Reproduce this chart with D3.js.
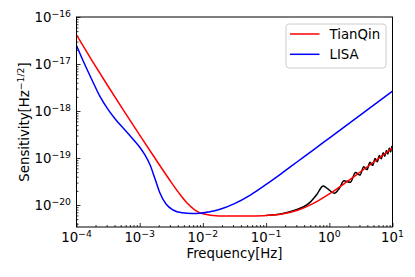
<!doctype html>
<html>
<head>
<meta charset="utf-8">
<script src="https://d3js.org/d3.v7.min.js"></script>
<style>
    body { margin: 0; background: #fff; }
    text { font-family: "DejaVu Sans", sans-serif; fill: #000; }
</style>
</head>
<body>
<svg width="415" height="277"></svg>
<script>

// TianQin (approx.) sensitivity
var tianqinFreq = [1e-4, 1.78e-4, 3.16e-4, 5.62e-4, 1e-3, 1.78e-3, 2.37e-3, 3.16e-3, 4.22e-3, 5.62e-3,
                   7.5e-3, 1e-2, 1.78e-2, 3.16e-2, 5.62e-2, 0.1, 0.178, 0.316, 0.562, 1, 1.78, 3.16, 5.62, 10];
var tianqinAsd  = [4.14e-17, 1.157e-17, 3.36e-18, 1.005e-18, 3.07e-19, 9.53e-20, 5.35e-20, 3.03e-20, 1.764e-20, 1.099e-20,
                   7.8e-21, 6.49e-21, 5.86e-21, 5.81e-21, 5.85e-21, 6.0e-21, 6.46e-21, 7.73e-21, 1.08e-20, 1.722e-20, 2.942e-20, 5.16e-20, 9.14e-20, 1.623e-19];

// LISA sensitivity
var lisaFreq = [1e-4, 1.32e-4, 1.76e-4, 2.35e-4, 3.15e-4, 4.22e-4, 5.65e-4, 7.55e-4, 1.01e-3, 1.21e-3, 1.46e-3, 1.75e-3, 2.09e-3,
                2.61e-3, 3.37e-3, 4.67e-3, 6.76e-3, 9.0e-3, 1.29e-2, 1.87e-2, 3.16e-2, 5.62e-2, 0.1, 0.178, 0.316, 0.562, 1, 3.16, 10];
var lisaAsd  = [2.48e-17, 1.05e-17, 4.57e-18, 2.04e-18, 1.08e-18, 6.44e-19, 4.14e-19, 2.67e-19, 1.67e-19, 1.16e-19, 7.1e-20, 3.57e-20, 1.8e-20,
                1.05e-20, 7.83e-21, 6.82e-21, 6.59e-21, 6.65e-21, 7.2e-21, 8.1e-21, 1.07e-20, 1.63e-20, 2.74e-20, 4.77e-20, 8.42e-20, 1.49e-19, 2.66e-19, 8.4e-19, 2.66e-18];

// TianQin full response (black, no legend entry)
var fullFreq = [0.1, 0.178, 0.3, 0.4, 0.5, 0.63, 0.8, 0.95, 1.2, 1.45, 1.7, 2.15, 2.6, 3.05, 3.5, 3.95, 4.4, 4.85,
                5.3, 5.75, 6.2, 6.65, 7.1, 7.55, 8.0, 8.45, 8.9, 9.35, 9.8, 10];
var fullAsd  = [6.0e-21, 6.5e-21, 7.9e-21, 9.3e-21, 1.15e-20, 1.65e-20, 2.55e-20, 2.2e-20, 1.78e-20, 2.3e-20, 3.3e-20, 3.05e-20,
                4.9e-20, 4.33e-20, 6.5e-20, 5.66e-20, 8.1e-20, 7.0e-20, 9.7e-20, 8.3e-20, 1.13e-19, 9.6e-20, 1.29e-19, 1.09e-19,
                1.45e-19, 1.22e-19, 1.61e-19, 1.35e-19, 1.77e-19, 1.70e-19];

var xTickExps = [-4, -3, -2, -1, 0, 1];
var yTickExps = [-20, -19, -18, -17, -16];
var legendNames = ["TianQin", "LISA"];
var legendColors = ["red", "blue"];

var svg = d3.select("svg"),
    x0 = 76.5, x1 = 392.5, y0 = 17, y1 = 227;

var xScale = d3.scaleLog().domain([1e-4, 10]).range([x0, x1]),
    yScale = d3.scaleLog().domain([Math.pow(10, -20.468), 1e-16]).range([y1, y0]);

svg.append("clipPath").attr("id", "clip")
   .append("rect").attr("x", x0).attr("y", y0)
   .attr("width", x1 - x0).attr("height", y1 - y0);

function minors(lo, hi) {
    var out = [];
    for (var e = lo; e < hi; e++)
        for (var k = 2; k < 10; k++) out.push(k * Math.pow(10, e));
    return out;
}

// axes, ticks pointing inward
var gx = svg.append("g").attr("transform", "translate(0," + y1 + ")");
gx.call(d3.axisBottom(xScale).tickValues(xTickExps.map(function(e) { return Math.pow(10, e); }))
          .tickSize(-4).tickFormat(""));
gx.append("g").call(d3.axisBottom(xScale).tickValues(minors(-4, 1)).tickSize(-2).tickFormat(""));

var gy = svg.append("g").attr("transform", "translate(" + x0 + ",0)");
gy.call(d3.axisLeft(yScale).tickValues(yTickExps.map(function(e) { return Math.pow(10, e); }))
          .tickSize(-4).tickFormat(""));
gy.append("g").call(d3.axisLeft(yScale).tickValues(minors(-21, -16).filter(function(v) { return v >= yScale.domain()[0]; }))
          .tickSize(-2).tickFormat(""));

svg.selectAll(".domain").remove();
svg.selectAll(".tick line").attr("stroke", "#000").attr("stroke-width", 0.8);

// tick labels
xTickExps.forEach(function(e) {
    var t = svg.append("text")
        .attr("x", xScale(Math.pow(10, e)))
        .attr("y", 242)
        .attr("text-anchor", "middle")
        .attr("font-size", "13.3px");
    t.append("tspan").text("10");
    t.append("tspan").attr("dy", -5.5).attr("font-size", "9.3px").text(e < 0 ? "\u2212" + (-e) : e);
});

yTickExps.forEach(function(e) {
    var t = svg.append("text")
        .attr("x", 71)
        .attr("y", yScale(Math.pow(10, e)) + 5)
        .attr("text-anchor", "end")
        .attr("font-size", "13.3px");
    t.append("tspan").text("10");
    t.append("tspan").attr("dy", -5.5).attr("font-size", "9.3px").text("\u2212" + (-e));
});

svg.append("text")
   .attr("x", (x0 + x1) / 2)
   .attr("y", 258)
   .attr("text-anchor", "middle")
   .attr("font-size", "13.3px")
   .text("Frequency[Hz]");

var ylab = svg.append("text")
   .attr("transform", "translate(29," + (y0 + y1) / 2 + ") rotate(-90)")
   .attr("text-anchor", "middle")
   .attr("font-size", "13.3px");
ylab.append("tspan").text("Sensitivity[Hz");
ylab.append("tspan").attr("dy", -5.5).attr("font-size", "9.3px").text("\u22121/2");
ylab.append("tspan").attr("dy", 5.5).text("]");

// curves
var line = d3.line()
    .x(function(d) { return xScale(d[0]); })
    .y(function(d) { return yScale(d[1]); })
    .curve(d3.curveMonotoneX);

var plot = svg.append("g").attr("clip-path", "url(#clip)");

function draw(freq, asd, color) {
    plot.append("path")
        .datum(d3.zip(freq, asd))
        .attr("fill", "none")
        .attr("stroke", color)
        .attr("stroke-width", 1.5)
        .attr("d", line);
}

draw(fullFreq, fullAsd, "black");
draw(tianqinFreq, tianqinAsd, "red");
draw(lisaFreq, lisaAsd, "blue");

// frame
svg.append("rect")
   .attr("x", x0).attr("y", y0)
   .attr("width", x1 - x0).attr("height", y1 - y0)
   .attr("fill", "none").attr("stroke", "#000").attr("stroke-width", 1);

// legend
var lg = svg.append("g");
lg.append("rect")
  .attr("x", 286).attr("y", 24).attr("width", 100).attr("height", 44)
  .attr("rx", 3).attr("fill", "#fff").attr("fill-opacity", 0.8)
  .attr("stroke", "#ccc").attr("stroke-width", 1);

legendNames.forEach(function(name, i) {
    var yy = 34 + i * 20.3;
    lg.append("line")
      .attr("x1", 290).attr("x2", 319.5).attr("y1", yy).attr("y2", yy)
      .attr("stroke", legendColors[i]).attr("stroke-width", 1.5);
    lg.append("text")
      .attr("x", 329.5).attr("y", yy + 5)
      .attr("font-size", "13.3px")
      .text(name);
});

</script>
</body>
</html>
